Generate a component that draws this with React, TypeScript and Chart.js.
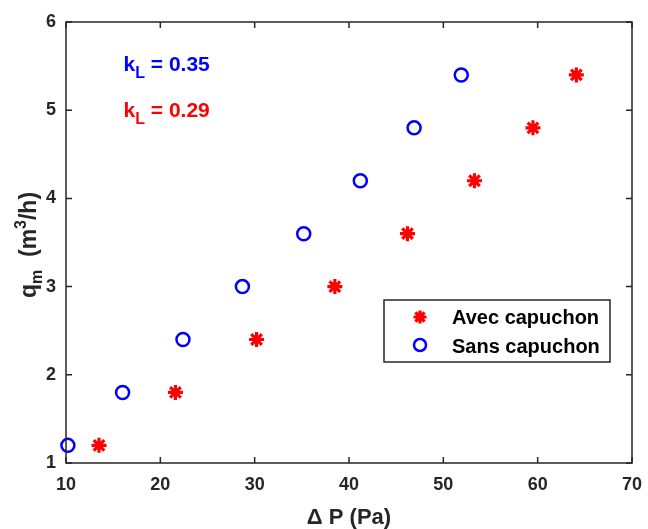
import React, { useEffect, useRef } from "react";
import { Chart, registerables } from "chart.js";

Chart.register(...registerables);

const qValues = [1.2, 1.8, 2.4, 3.0, 3.6, 4.2, 4.8, 5.4];
const avecDP = [13.5, 21.6, 30.2, 38.5, 46.2, 53.3, 59.5, 64.1];
const sansDP = [10.2, 16.0, 22.4, 28.7, 35.2, 41.2, 46.9, 51.9];
const seriesLabels = ["Avec capuchon", "Sans capuchon"];
const kLabels = ["0.35", "0.29"];
const xTicks = [10, 20, 30, 40, 50, 60, 70];
const yTicks = [1, 2, 3, 4, 5, 6];

const FONT = "'Liberation Sans', Arial, sans-serif";
const AXIS = "#262626";
const RED = "#FF0000";
const BLUE = "#0000FF";

type Part = { t: string; size: number; dy: number };

function partsWidth(ctx: CanvasRenderingContext2D, parts: Part[]) {
  let w = 0;
  for (const p of parts) {
    ctx.font = `bold ${p.size}px ${FONT}`;
    w += ctx.measureText(p.t).width;
  }
  return w;
}

function drawParts(ctx: CanvasRenderingContext2D, parts: Part[], x: number, y: number, color: string) {
  let cx = x;
  ctx.fillStyle = color;
  ctx.textBaseline = "alphabetic";
  ctx.textAlign = "left";
  for (const p of parts) {
    ctx.font = `bold ${p.size}px ${FONT}`;
    ctx.fillText(p.t, cx, y + p.dy);
    cx += ctx.measureText(p.t).width;
  }
}

function drawStar(ctx: CanvasRenderingContext2D, x: number, y: number, r: number, color: string) {
  ctx.save();
  ctx.strokeStyle = color;
  ctx.lineWidth = 3.2;
  ctx.beginPath();
  for (let i = 0; i < 4; i++) {
    const a = (i * Math.PI) / 4;
    ctx.moveTo(x + r * Math.cos(a), y + r * Math.sin(a));
    ctx.lineTo(x - r * Math.cos(a), y - r * Math.sin(a));
  }
  ctx.stroke();
  ctx.restore();
}

function drawCircle(ctx: CanvasRenderingContext2D, x: number, y: number, r: number, color: string) {
  ctx.save();
  ctx.strokeStyle = color;
  ctx.lineWidth = 2.5;
  ctx.beginPath();
  ctx.arc(x, y, r, 0, Math.PI * 2);
  ctx.stroke();
  ctx.restore();
}

const decorPlugin = {
  id: "decor",
  afterDraw(chart: any) {
    const ctx: CanvasRenderingContext2D = chart.ctx;
    const { left, right, top, bottom } = chart.chartArea;
    const xs = chart.scales.x;
    const ys = chart.scales.y;
    ctx.save();
    // box
    ctx.strokeStyle = AXIS;
    ctx.lineWidth = 1.5;
    ctx.strokeRect(left, top, right - left, bottom - top);
    // inward ticks
    const tl = 6;
    ctx.beginPath();
    for (const v of xTicks) {
      const px = xs.getPixelForValue(v);
      ctx.moveTo(px, bottom);
      ctx.lineTo(px, bottom - tl);
      ctx.moveTo(px, top);
      ctx.lineTo(px, top + tl);
    }
    for (const v of yTicks) {
      const py = ys.getPixelForValue(v);
      ctx.moveTo(left, py);
      ctx.lineTo(left + tl, py);
      ctx.moveTo(right, py);
      ctx.lineTo(right - tl, py);
    }
    ctx.stroke();

    // annotations k_L
    const annColors = [BLUE, RED];
    const annY = [5.44, 4.92];
    for (let i = 0; i < kLabels.length; i++) {
      const px = xs.getPixelForValue(16.1);
      const py = ys.getPixelForValue(annY[i]);
      drawParts(
        ctx,
        [
          { t: "k", size: 21, dy: 0 },
          { t: "L", size: 16, dy: 7 },
          { t: " = " + kLabels[i], size: 21, dy: 0 },
        ],
        px,
        py,
        annColors[i]
      );
    }

    // legend
    const lx = 384, ly = 300, lw = 226, lh = 62;
    ctx.fillStyle = "#ffffff";
    ctx.fillRect(lx, ly, lw, lh);
    ctx.strokeStyle = AXIS;
    ctx.lineWidth = 1.5;
    ctx.strokeRect(lx, ly, lw, lh);
    drawStar(ctx, lx + 36, ly + 17, 6.5, RED);
    drawCircle(ctx, lx + 36, ly + 45, 6, BLUE);
    ctx.fillStyle = "#000000";
    ctx.font = `bold 20px ${FONT}`;
    ctx.textBaseline = "alphabetic";
    ctx.textAlign = "left";
    ctx.fillText(seriesLabels[0], lx + 68, ly + 24);
    ctx.fillText(seriesLabels[1], lx + 68, ly + 53);

    // x title
    const xParts: Part[] = [{ t: "\u0394 P (Pa)", size: 22, dy: 0 }];
    const xw = partsWidth(ctx, xParts);
    drawParts(ctx, xParts, (left + right) / 2 - xw / 2, 524, AXIS);

    // y title
    const yParts: Part[] = [
      { t: "q", size: 23, dy: 0 },
      { t: "m", size: 16, dy: 6 },
      { t: "  (m", size: 23, dy: 0 },
      { t: "3", size: 16, dy: -10 },
      { t: "/h)", size: 23, dy: 0 },
    ];
    const yw = partsWidth(ctx, yParts);
    ctx.translate(36, 245);
    ctx.rotate(-Math.PI / 2);
    drawParts(ctx, yParts, -yw / 2, 0, AXIS);
    ctx.restore();
  },
};

function App() {
  const ref = useRef<HTMLCanvasElement | null>(null);
  useEffect(() => {
    document.body.style.margin = "0";
    const canvas = ref.current;
    if (!canvas) return;
    const chart = new Chart(canvas, {
      type: "scatter",
      data: {
        datasets: [
          {
            label: seriesLabels[0],
            data: avecDP.map((x, i) => ({ x, y: qValues[i] })),
            pointStyle: "star",
            pointRadius: 7.5,
            borderColor: RED,
            backgroundColor: RED,
            borderWidth: 3.2,
            clip: false,
          },
          {
            label: seriesLabels[1],
            data: sansDP.map((x, i) => ({ x, y: qValues[i] })),
            pointStyle: "circle",
            pointRadius: 6.5,
            borderColor: BLUE,
            backgroundColor: "rgba(0,0,0,0)",
            borderWidth: 2.5,
            clip: false,
          },
        ],
      },
      options: {
        responsive: false,
        animation: false,
        layout: { padding: { top: 22, right: 16, left: 0, bottom: 0 } },
        plugins: {
          legend: { display: false },
          tooltip: { enabled: false },
        },
        scales: {
          x: {
            type: "linear",
            min: 10,
            max: 70,
            afterFit: (s: any) => {
              s.height = 66;
              s.paddingLeft = 0;
              s.paddingRight = 0;
            },
            afterBuildTicks: (s: any) => {
              s.ticks = xTicks.map((v) => ({ value: v }));
            },
            grid: { display: false, drawTicks: false },
            border: { display: false },
            ticks: {
              color: AXIS,
              font: { family: FONT, size: 18, weight: "bold" },
              padding: 11,
              maxRotation: 0,
            },
          },
          y: {
            type: "linear",
            min: 1,
            max: 6,
            afterFit: (s: any) => {
              s.width = 66;
              s.paddingTop = 0;
              s.paddingBottom = 0;
            },
            afterBuildTicks: (s: any) => {
              s.ticks = yTicks.map((v) => ({ value: v }));
            },
            grid: { display: false, drawTicks: false },
            border: { display: false },
            ticks: {
              color: AXIS,
              font: { family: FONT, size: 18, weight: "bold" },
              padding: 10,
            },
          },
        },
      },
      plugins: [decorPlugin],
    });
    return () => chart.destroy();
  }, []);
  return <canvas ref={ref} width={648} height={529} style={{ display: "block" }} />;
}

export default App;
